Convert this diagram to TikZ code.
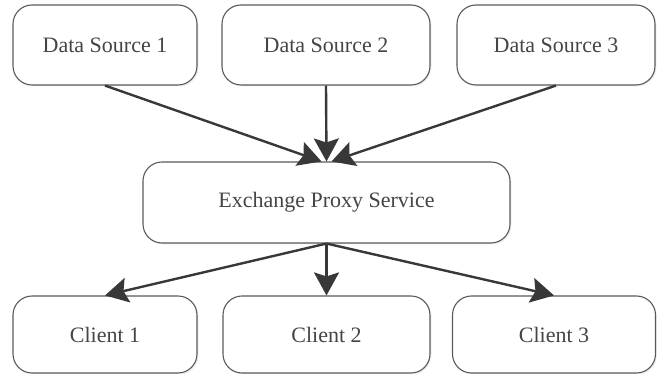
\documentclass[tikz,border=0pt]{standalone}
\usepackage{fontspec}
\setmainfont{Liberation Serif}
\newfontfamily\boxfont{Liberation Serif}
\usetikzlibrary{arrows.meta,shadows,calc}

\definecolor{edge}{HTML}{383838}
\definecolor{frame}{HTML}{5A5A5A}
\definecolor{label}{HTML}{454545}

\tikzset{
  box/.style={draw=frame, line width=1.1pt, fill=white, rounded corners=19pt,
    minimum height=80pt, inner sep=0pt, text=label,
    font=\boxfont\fontsize{22}{24}\selectfont,
    drop shadow={shadow xshift=1.5pt, shadow yshift=-1.5pt, opacity=0.12}},
  flow/.style={draw=edge, line width=2.4pt,
    -{Stealth[length=23pt, width=25pt, inset=4pt]}}
}

\begin{document}
\begin{tikzpicture}[x=1pt, y=-1pt]
  \useasboundingbox (0,0) rectangle (657,374);

  % sources
  \node[box, minimum width=184pt] (ds1) at (105,45) {Data Source 1};
  \node[box, minimum width=208pt] (ds2) at (326,45) {Data Source 2};
  \node[box, minimum width=198pt] (ds3) at (556,45) {Data Source 3};

  % proxy
  \node[box, minimum width=367pt, minimum height=81pt] (ex) at (326.5,202.5) {Exchange Proxy Service};

  % clients
  \node[box, minimum width=184pt, minimum height=77pt] (c1) at (105,334.5) {Client 1};
  \node[box, minimum width=207pt, minimum height=77pt] (c2) at (326.5,334.5) {Client 2};
  \node[box, minimum width=203pt, minimum height=77pt] (c3) at (554,334.5) {Client 3};

  % arrow targets on the proxy's top edge
  \coordinate (inL) at ($(ex.north)+(-5,0)$);
  \coordinate (inR) at ($(ex.north)+(5,0)$);

  \draw[flow] (ds1.south) -- (inL);
  \draw[flow] (ds2.south) -- (ex.north);
  \draw[flow] (ds3.south) -- (inR);

  \draw[flow] (ex.south) -- (c1.north);
  \draw[flow] (ex.south) -- (c2.north);
  \draw[flow] (ex.south) -- (c3.north);
\end{tikzpicture}
\end{document}
